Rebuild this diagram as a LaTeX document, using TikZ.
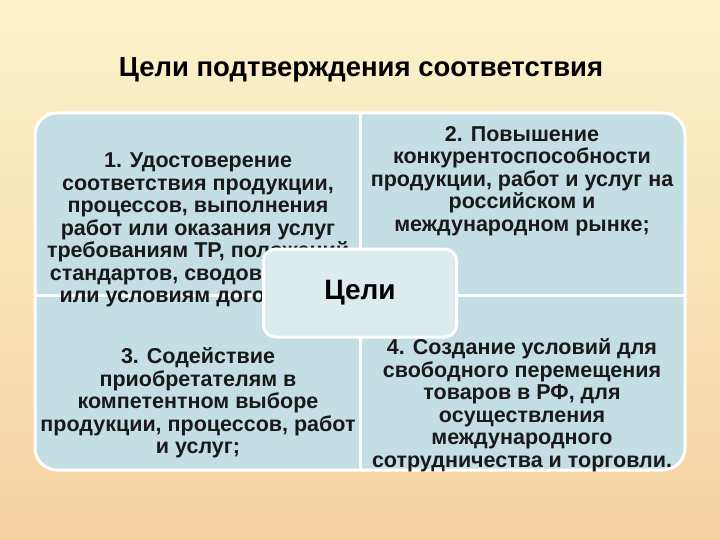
\documentclass[tikz,border=0pt]{standalone}
\usepackage{fontspec}
\setmainfont{Liberation Sans}
\begin{document}
\begin{tikzpicture}[x=1pt,y=-1pt,
 qtext/.style={font=\bfseries\fontsize{21.5}{22.5}\selectfont,align=center,text=black!90},
 center/.style={draw=white,line width=3pt,fill=cyan!8!white!88!gray,rounded corners=12pt,minimum width=193pt,minimum height=88pt,font=\bfseries\fontsize{28}{30}\selectfont}]
\definecolor{topc}{HTML}{FBF3CC}\definecolor{botc}{HTML}{F6D2A2}\definecolor{qc}{HTML}{C3DFE4}\definecolor{cc}{HTML}{DCECEE}
\shade[top color=topc,bottom color=botc] (0,0) rectangle (720,540);
\useasboundingbox (0,0) rectangle (720,540);
\node[font=\bfseries\fontsize{27.5}{30}\selectfont] (title) at (361,70) {Цели подтверждения соответствия};
\draw[white,line width=3pt,fill=qc,rounded corners=22pt] (35,113) rectangle (685,470);
\draw[white,line width=3pt] (360,113) -- (360,470);
\draw[white,line width=3pt] (35,295) -- (685,295);
\node[qtext] (q1) at (198,230) {1. Удостоверение\\соответствия продукции,\\процессов, выполнения\\работ или оказания услуг\\требованиям ТР, положений\\стандартов, сводов правил\\или условиям договоров.};
\node[qtext] (q2) at (522,181) {2. Повышение\\конкурентоспособности\\продукции, работ и услуг на\\российском и\\международном рынке;};
\node[qtext] (q3) at (198,403) {3. Содействие\\приобретателям в\\компетентном выборе\\продукции, процессов, работ\\и услуг;};
\node[qtext] (q4) at (522,405) {4. Создание условий для\\свободного перемещения\\товаров в РФ, для\\осуществления\\международного\\сотрудничества и торговли.};
\node[center,fill=cc] (c) at (360,293) {Цели};
\end{tikzpicture}
\end{document}
